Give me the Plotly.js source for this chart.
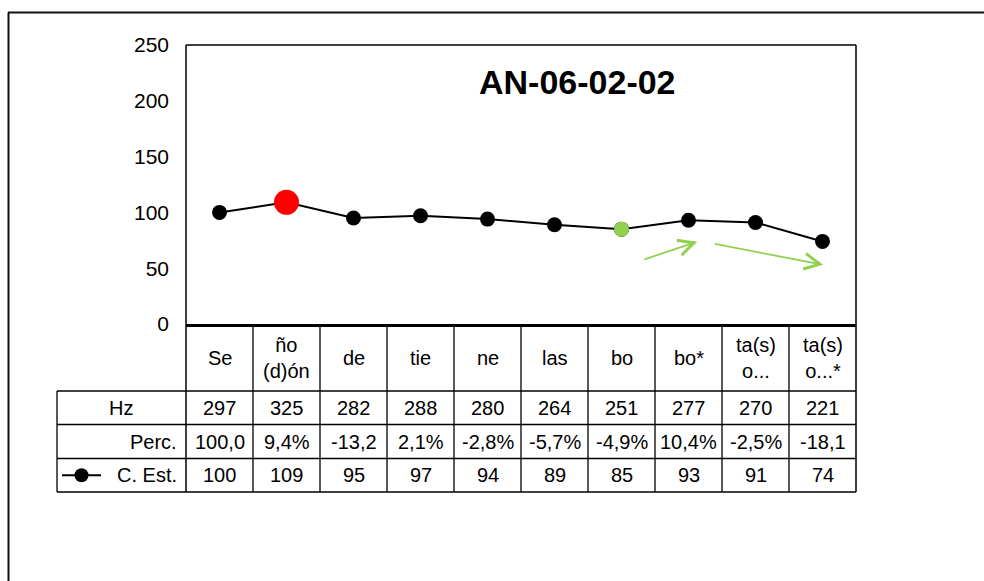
<!DOCTYPE html>
<html><head><meta charset="utf-8">
<script src="https://cdn.plot.ly/plotly-3.0.1.min.js"></script>
<style>html,body{margin:0;padding:0;background:#fff}#chart{width:984px;height:581px}</style>
</head><body><div id="chart"></div>
<script>
// ---- data ----
const categories = ["Se","ño<br>(d)ón","de","tie","ne","las","bo","bo*","ta(s)<br>o...","ta(s)<br>o...*"];
const hz = [297,325,282,288,280,264,251,277,270,221];
const perc = ["100,0","9,4%","-13,2","2,1%","-2,8%","-5,7%","-4,9%","10,4%","-2,5%","-18,1"];
const cEst = [100,109,95,97,94,89,85,93,91,74];
const rowLabels = ["Hz","Perc.","C. Est."];
const redIndex = 1;
const greenIndex = 6;
const chartTitle = "AN-06-02-02";

// ---- layout geometry (pixels) ----
const W = 984, H = 581;
const L = 186, R = 856, T = 45, B = 324;
const px = x => (x - L) / (R - L);
const py = y => (B - y) / (B - T);
const FONT = "Liberation Sans, Arial, sans-serif";
const GREEN = "#92d050";

const idx = categories.map((_, i) => i);

const traces = [
  {
    x: idx, y: cEst, mode: "lines+markers", hoverinfo: "skip",
    line: {color: "#000", width: 2},
    marker: {
      color: idx.map(i => i === redIndex ? "#ff0000" : "#000000"),
      size: idx.map(i => i === redIndex ? 25 : 15),
      opacity: 1,
      line: {width: 0}
    }
  },
  {
    x: [idx[greenIndex]], y: [cEst[greenIndex]], mode: "markers", hoverinfo: "skip",
    marker: {color: GREEN, size: 15, opacity: 1, line: {width: 0}}
  }
];

// ---- table geometry ----
const rowTops = [391, 424.5, 458.5, 492];
const tableLeft = 57;
const shapes = [];
const ln = (x0, y0, x1, y1, w, c) => shapes.push({type: "line", xref: "paper", yref: "paper",
  x0: px(x0), y0: py(y0), x1: px(x1), y1: py(y1), line: {color: c || "#000", width: w || 1.3}});

// outer frame
ln(8.5, 12.5, 8.5, H + 5, 2, "#111");
ln(8, 12.5, W + 5, 12.5, 2, "#111");
// plot area border
ln(L, T, R, T, 1.5);
ln(R, T, R, rowTops[3], 1.5);
ln(L, T, L, rowTops[3], 1.5);
// table horizontal lines
rowTops.forEach(y => ln(tableLeft, y, R, y, 1.3));
ln(tableLeft, rowTops[0], tableLeft, rowTops[3], 1.3);
// column dividers
for (let k = 1; k < categories.length; k++) {
  const x = L + (R - L) * k / categories.length;
  ln(x, B, x, rowTops[3], 1.3);
}
// legend key in C. Est. row
const keyY = (rowTops[2] + rowTops[3]) / 2;
ln(62, keyY, 101, keyY, 2);
shapes.push({type: "circle", xref: "paper", yref: "paper",
  x0: px(74.5), x1: px(88.5), y0: py(keyY + 7), y1: py(keyY - 7),
  fillcolor: "#000", line: {width: 0}});

// ---- annotations ----
const ann = [];
const tf = {family: FONT, size: 20, color: "#000"};
categories.forEach((c, i) => {
  ann.push({x: i, xref: "x", y: py((B + rowTops[0]) / 2), yref: "paper", text: c,
    showarrow: false, font: tf, xanchor: "center", yanchor: "middle"});
  ann.push({x: i, xref: "x", y: py((rowTops[0] + rowTops[1]) / 2), yref: "paper", text: String(hz[i]),
    showarrow: false, font: tf, xanchor: "center", yanchor: "middle"});
  ann.push({x: i, xref: "x", y: py((rowTops[1] + rowTops[2]) / 2), yref: "paper", text: perc[i],
    showarrow: false, font: tf, xanchor: "center", yanchor: "middle"});
  ann.push({x: i, xref: "x", y: py((rowTops[2] + rowTops[3]) / 2), yref: "paper", text: String(cEst[i]),
    showarrow: false, font: tf, xanchor: "center", yanchor: "middle"});
});
ann.push({x: px(121), xref: "paper", y: py((rowTops[0] + rowTops[1]) / 2), yref: "paper", text: rowLabels[0],
  showarrow: false, font: tf, xanchor: "center", yanchor: "middle"});
ann.push({x: px(179), xref: "paper", y: py((rowTops[1] + rowTops[2]) / 2), yref: "paper", text: rowLabels[1],
  showarrow: false, font: tf, xanchor: "right", yanchor: "middle"});
ann.push({x: px(179), xref: "paper", y: py((rowTops[2] + rowTops[3]) / 2), yref: "paper", text: rowLabels[2],
  showarrow: false, font: tf, xanchor: "right", yanchor: "middle"});
// title
ann.push({x: px(577), xref: "paper", y: py(82), yref: "paper", text: "<b>" + chartTitle + "</b>",
  showarrow: false, font: {family: FONT, size: 34, color: "#000"}, xanchor: "center", yanchor: "middle"});
// green arrows
ann.push({x: 7.13, y: 73.7, ax: 6.32, ay: 57.5, xref: "x", yref: "y", axref: "x", ayref: "y",
  text: "", showarrow: true, arrowhead: 5, arrowsize: 1.7, arrowwidth: 1.8, arrowcolor: GREEN});
ann.push({x: 9.01, y: 53, ax: 7.37, ay: 72, xref: "x", yref: "y", axref: "x", ayref: "y",
  text: "", showarrow: true, arrowhead: 5, arrowsize: 1.7, arrowwidth: 1.8, arrowcolor: GREEN});

const layout = {
  width: W, height: H,
  margin: {l: L, r: W - R, t: T, b: H - B, pad: 0},
  paper_bgcolor: "#fff", plot_bgcolor: "#fff",
  showlegend: false,
  xaxis: {range: [-0.5, categories.length - 0.5], showticklabels: false, ticks: "",
    showgrid: false, zeroline: false, showline: true, linecolor: "#000", linewidth: 3, fixedrange: true},
  yaxis: {range: [0, 250], dtick: 50, tick0: 0, ticks: "", showgrid: false, zeroline: false,
    showline: false, tickfont: {family: FONT, size: 21, color: "#000"}, ticklabelstandoff: 16, fixedrange: true},
  shapes: shapes,
  annotations: ann
};

Plotly.newPlot("chart", traces, layout, {staticPlot: true, displayModeBar: false});
</script></body></html>
